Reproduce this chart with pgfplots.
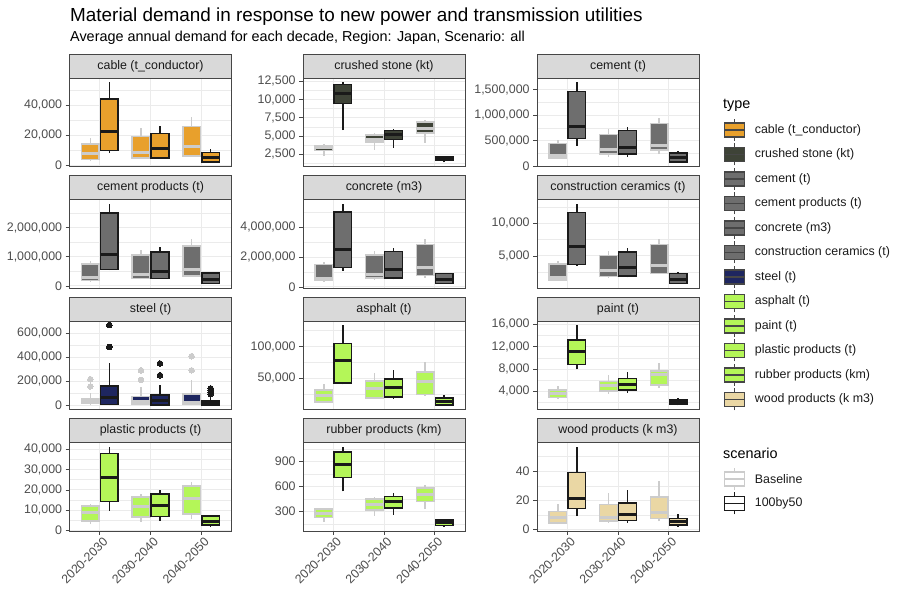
\documentclass[border=0pt]{standalone}
\usepackage{fontspec}
\setmainfont{Liberation Sans}
\usepackage{pgfplots}
\pgfplotsset{compat=1.18}

\definecolor{cableC}{RGB}{232,160,44}
\definecolor{stoneC}{RGB}{62,67,55}
\definecolor{cementC}{RGB}{110,110,110}
\definecolor{steelC}{RGB}{30,38,96}
\definecolor{limeC}{RGB}{180,246,88}
\definecolor{woodC}{RGB}{234,215,164}
\definecolor{baseC}{RGB}{204,204,204}
\definecolor{scenC}{RGB}{26,26,26}
\definecolor{grid92}{RGB}{235,235,235}
\definecolor{grey20}{RGB}{70,70,70}
\definecolor{grey30}{RGB}{77,77,77}
\definecolor{grey85}{RGB}{217,217,217}
\definecolor{grey10}{RGB}{26,26,26}

\newcommand\fs[1]{\fontsize{#1}{#1}\selectfont}

\pgfplotsset{
  facet/.style={
    scale only axis, width=162pt, height=88.5pt, anchor=north west,
    xmin=0.4, xmax=3.6, xtick={1,2,3}, xticklabels={},
    xtick style={draw=none},
    ytick pos=left, xtick pos=bottom,
    xmajorgrids, ymajorgrids, yminorgrids,
    major grid style={color=grid92, line width=1pt},
    minor grid style={color=grid92, line width=0.5pt},
    axis line style={draw=grey20, line width=0.8pt},
    tick align=outside, major tick length=3.9pt, minor tick length=0pt,
    ytick style={draw=grey20, line width=0.8pt},
    yticklabel style={font=\fs{12.4}, text=grey30},
    scaled y ticks=false,
    /pgf/number format/fixed,
    /pgf/number format/1000 sep={,},
    /pgf/number format/assume math mode=true,
    clip=false,
  },
  strip/.style={
    after end axis/.append code={
      \draw[draw=grey20, line width=0.8pt, fill=grey85] (rel axis cs:0,1) rectangle ([yshift=24pt]rel axis cs:1,1);
      \node[font=\fs{12.4}, text=grey10] at ([yshift=12pt]rel axis cs:0.5,1) {#1};
    }
  },
  bottomrow/.style={
    xticklabels={2020-2030,2030-2040,2040-2050},
    xtick style={draw=grey20, line width=0.8pt},
    xticklabel style={font=\fs{12.4}, text=grey30, xshift=2.5pt, rotate=45, anchor=north east, inner sep=1pt},
  },
}

% one box: #1 left, #2 centre, #3 right (x), #4 outline colour,
% #5 lower whisker, #6 lower quartile, #7 median, #8 upper quartile, #9 upper whisker
\newcommand\bx[9]{%
  \addplot[draw=#4, line width=1.5pt] coordinates {(#2,#5) (#2,#6)};
  \addplot[draw=#4, line width=1.5pt] coordinates {(#2,#8) (#2,#9)};
  \addplot[draw=#4, fill=F, line width=1.5pt] coordinates {(#1,#6) (#3,#6) (#3,#8) (#1,#8)} -- cycle;
  \addplot[draw=#4, line width=3pt] coordinates {(#1,#7) (#3,#7)};
}
\pgfplotsset{outl/.style={only marks, mark=*, mark size=2.8pt, mark options={draw=#1, fill=#1, line width=0pt}}}

\begin{document}
\begin{tikzpicture}
\path[use as bounding box] (0pt,0pt) rectangle (898pt,593pt);

\node[anchor=base west, font=\fs{18.9}, inner sep=0pt] at (70pt,571.5pt) {Material demand in response to new power and transmission utilities};
\node[anchor=base west, font=\fs{14.4}, inner sep=0pt] at (70pt,551pt) {Average annual demand for each decade, Region: Japan, Scenario: all};

% ---------------- row 1 ----------------
\colorlet{F}{cableC}
\begin{axis}[facet, at={(69.5pt,515pt)}, strip={cable (t\_conductor)},
  ymin=-890, ymax=58290, ytick={0,20000,40000}, minor ytick={10000,30000,50000}]
\bx{0.6375}{0.8125}{0.9875}{baseC}{2600}{3700}{8000}{14300}{18000}
\bx{1.0125}{1.1875}{1.3625}{scenC}{8100}{9700}{22200}{44400}{55600}
\bx{1.6375}{1.8125}{1.9875}{baseC}{4400}{4800}{8800}{19300}{24800}
\bx{2.0125}{2.1875}{2.3625}{scenC}{4400}{4800}{11000}{21300}{26400}
\bx{2.6375}{2.8125}{2.9875}{baseC}{5500}{6200}{12300}{25700}{32300}
\bx{3.0125}{3.1875}{3.3625}{scenC}{1800}{2200}{5100}{8600}{11000}
\end{axis}

\colorlet{F}{stoneC}
\begin{axis}[facet, at={(303pt,515pt)}, strip={crushed stone (kt)},
  ymin=839.5, ymax=12950.5, ytick={2500,5000,7500,10000,12500}, minor ytick={1250,3750,6250,8750,11250}]
\bx{0.6375}{0.8125}{0.9875}{baseC}{2250}{3000}{3380}{3740}{3930}
\bx{1.0125}{1.1875}{1.3625}{scenC}{5800}{9460}{10840}{12040}{12400}
\bx{1.6375}{1.8125}{1.9875}{baseC}{3150}{4160}{4600}{5170}{5450}
\bx{2.0125}{2.1875}{2.3625}{scenC}{3380}{4530}{5220}{5770}{5910}
\bx{2.6375}{2.8125}{2.9875}{baseC}{4070}{5450}{6000}{6920}{7150}
\bx{3.0125}{3.1875}{3.3625}{scenC}{1390}{1670}{1950}{2220}{2320}
\end{axis}

\colorlet{F}{cementC}
\begin{axis}[facet, at={(537pt,515pt)}, strip={cement (t)},
  ymin=-600, ymax=1728600, ytick={0,500000,1000000,1500000}, minor ytick={250000,750000,1250000}]
\bx{0.6375}{0.8125}{0.9875}{baseC}{142000}{168000}{207000}{453000}{517000}
\bx{1.0125}{1.1875}{1.3625}{scenC}{401000}{543000}{789000}{1468000}{1650000}
\bx{1.6375}{1.8125}{1.9875}{baseC}{194000}{246000}{336000}{627000}{724000}
\bx{2.0125}{2.1875}{2.3625}{scenC}{194000}{246000}{369000}{699000}{776000}
\bx{2.6375}{2.8125}{2.9875}{baseC}{239000}{317000}{414000}{841000}{938000}
\bx{3.0125}{3.1875}{3.3625}{scenC}{78000}{91000}{168000}{265000}{298000}
\end{axis}

% ---------------- row 2 ----------------
\begin{axis}[facet, at={(69.5pt,393.5pt)}, strip={cement products (t)},
  ymin=-70100, ymax=2968100, ytick={0,1000000,2000000}, minor ytick={500000,1500000,2500000}]
\bx{0.6375}{0.8125}{0.9875}{baseC}{148000}{182000}{280000}{750000}{852000}
\bx{1.0125}{1.1875}{1.3625}{scenC}{545000}{568000}{1080000}{2500000}{2830000}
\bx{1.6375}{1.8125}{1.9875}{baseC}{227000}{261000}{409000}{1057000}{1250000}
\bx{2.0125}{2.1875}{2.3625}{scenC}{239000}{261000}{489000}{1170000}{1341000}
\bx{2.6375}{2.8125}{2.9875}{baseC}{318000}{341000}{560000}{1375000}{1625000}
\bx{3.0125}{3.1875}{3.3625}{scenC}{68000}{91000}{227000}{443000}{489000}
\end{axis}

\begin{axis}[facet, at={(303pt,393.5pt)}, strip={concrete (m3)},
  ymin=-68900, ymax=5846900, ytick={0,2000000,4000000}, minor ytick={1000000,3000000,5000000}]
\bx{0.6375}{0.8125}{0.9875}{baseC}{356000}{422000}{556000}{1511000}{1689000}
\bx{1.0125}{1.1875}{1.3625}{scenC}{1067000}{1289000}{2511000}{5000000}{5578000}
\bx{1.6375}{1.8125}{1.9875}{baseC}{467000}{600000}{850000}{2133000}{2400000}
\bx{2.0125}{2.1875}{2.3625}{scenC}{511000}{600000}{1178000}{2378000}{2578000}
\bx{2.6375}{2.8125}{2.9875}{baseC}{622000}{778000}{1333000}{2822000}{3222000}
\bx{3.0125}{3.1875}{3.3625}{scenC}{200000}{244000}{467000}{889000}{956000}
\end{axis}

\begin{axis}[facet, at={(537pt,393.5pt)}, strip={construction ceramics (t)},
  ymin=91, ymax=13646, ytick={5000,10000}, minor ytick={2500,7500,12500}]
\bx{0.6375}{0.8125}{0.9875}{baseC}{1212}{1313}{1768}{3737}{4192}
\bx{1.0125}{1.1875}{1.3625}{scenC}{3485}{3687}{6465}{11667}{13030}
\bx{1.6375}{1.8125}{1.9875}{baseC}{1667}{1818}{2700}{5101}{5758}
\bx{2.0125}{2.1875}{2.3625}{scenC}{1717}{1919}{3232}{5606}{6263}
\bx{2.6375}{2.8125}{2.9875}{baseC}{2222}{2323}{3586}{6717}{7525}
\bx{3.0125}{3.1875}{3.3625}{scenC}{707}{808}{1414}{2273}{2576}
\end{axis}

% ---------------- row 3 ----------------
\colorlet{F}{steelC}
\begin{axis}[facet, at={(69.5pt,272pt)}, strip={steel (t)},
  ymin=-33400, ymax=701400, ytick={0,200000,400000,600000}, minor ytick={100000,300000,500000}]
\bx{0.6375}{0.8125}{0.9875}{baseC}{5500}{19000}{35000}{54600}{103700}
\bx{1.0125}{1.1875}{1.3625}{scenC}{2700}{8200}{62800}{163700}{349000}
\bx{1.6375}{1.8125}{1.9875}{baseC}{2700}{13600}{35000}{73700}{150000}
\bx{2.0125}{2.1875}{2.3625}{scenC}{2700}{5500}{40900}{87300}{169000}
\bx{2.6375}{2.8125}{2.9875}{baseC}{2700}{8200}{27300}{95500}{213000}
\bx{3.0125}{3.1875}{3.3625}{scenC}{0}{2700}{21800}{38200}{81900}
\addplot[outl=baseC] coordinates {(0.8125,158000) (0.8125,218000) (1.8125,213000) (1.8125,292000) (2.8125,292000) (2.8125,409000)};
\addplot[outl=scenC] coordinates {(1.1875,485700) (1.1875,668000) (2.1875,251000) (2.1875,349000) (3.1875,95000) (3.1875,110000) (3.1875,128000) (3.1875,142000)};
\end{axis}

\colorlet{F}{limeC}
\begin{axis}[facet, at={(303pt,272pt)}, strip={asphalt (t)},
  ymin=1175, ymax=140325, ytick={50000,100000}, minor ytick={25000,75000,125000}]
\bx{0.6375}{0.8125}{0.9875}{baseC}{11600}{12600}{23700}{31600}{40500}
\bx{1.0125}{1.1875}{1.3625}{scenC}{40500}{43200}{77900}{105300}{134000}
\bx{1.6375}{1.8125}{1.9875}{baseC}{17900}{19500}{34200}{45800}{57900}
\bx{2.0125}{2.1875}{2.3625}{scenC}{18400}{20500}{36300}{49500}{62600}
\bx{2.6375}{2.8125}{2.9875}{baseC}{23200}{24700}{44700}{60500}{76300}
\bx{3.0125}{3.1875}{3.3625}{scenC}{7500}{8500}{13200}{18900}{23200}
\end{axis}

\begin{axis}[facet, at={(537pt,272pt)}, strip={paint (t)},
  ymin=750, ymax=16600, ytick={4000,8000,12000,16000}, minor ytick={2000,6000,10000,14000}]
\bx{0.6375}{0.8125}{0.9875}{baseC}{2650}{2880}{3650}{4235}{4880}
\bx{1.0125}{1.1875}{1.3625}{scenC}{7940}{8820}{11120}{13240}{15880}
\bx{1.6375}{1.8125}{1.9875}{baseC}{3530}{4060}{5000}{5765}{6880}
\bx{2.0125}{2.1875}{2.3625}{scenC}{3765}{4235}{5290}{6290}{7530}
\bx{2.6375}{2.8125}{2.9875}{baseC}{4590}{5180}{7000}{7650}{9120}
\bx{3.0125}{3.1875}{3.3625}{scenC}{1470}{1700}{2060}{2470}{2880}
\end{axis}

% ---------------- row 4 ----------------
\begin{axis}[facet, bottomrow, at={(69.5pt,150.5pt)}, strip={plastic products (t)},
  ymin=-175, ymax=43275, ytick={0,10000,20000,30000,40000}, minor ytick={5000,15000,25000,35000}]
\bx{0.6375}{0.8125}{0.9875}{baseC}{3240}{4700}{8745}{11980}{12960}
\bx{1.0125}{1.1875}{1.3625}{scenC}{9700}{14400}{26200}{37900}{41300}
\bx{1.6375}{1.8125}{1.9875}{baseC}{4370}{6640}{11660}{16500}{17800}
\bx{2.0125}{2.1875}{2.3625}{scenC}{4860}{6960}{12470}{17980}{19760}
\bx{2.6375}{2.8125}{2.9875}{baseC}{5500}{8260}{15700}{21860}{23800}
\bx{3.0125}{3.1875}{3.3625}{scenC}{1800}{2750}{4700}{7290}{7600}
\end{axis}

\begin{axis}[facet, bottomrow, at={(303pt,150.5pt)}, strip={rubber products (km)},
  ymin=66.7, ymax=1129.3, ytick={300,600,900}, minor ytick={150,450,750,1050}]
\bx{0.6375}{0.8125}{0.9875}{baseC}{179}{228}{280}{328}{340}
\bx{1.0125}{1.1875}{1.3625}{scenC}{542}{711}{864}{1013}{1081}
\bx{1.6375}{1.8125}{1.9875}{baseC}{248}{316}{389}{449}{477}
\bx{2.0125}{2.1875}{2.3625}{scenC}{260}{340}{417}{481}{517}
\bx{2.6375}{2.8125}{2.9875}{baseC}{328}{421}{509}{582}{622}
\bx{3.0125}{3.1875}{3.3625}{scenC}{115}{135}{167}{199}{215}
\end{axis}

\colorlet{F}{woodC}
\begin{axis}[facet, bottomrow, at={(537pt,150.5pt)}, strip={wood products (k m3)},
  ymin=-0.96, ymax=59.76, ytick={0,20,40}, minor ytick={10,30,50}]
\bx{0.6375}{0.8125}{0.9875}{baseC}{3.6}{4.5}{8.0}{12.5}{17.7}
\bx{1.0125}{1.1875}{1.3625}{scenC}{9.3}{14.3}{21.6}{39.3}{57.0}
\bx{1.6375}{1.8125}{1.9875}{baseC}{4.8}{5.9}{8.2}{17.3}{25.0}
\bx{2.0125}{2.1875}{2.3625}{scenC}{4.8}{6.4}{10.2}{18.4}{27.3}
\bx{2.6375}{2.8125}{2.9875}{baseC}{5.7}{7.5}{11.6}{22.5}{33.0}
\bx{3.0125}{3.1875}{3.3625}{scenC}{1.8}{3.0}{5.7}{7.5}{10.7}
\end{axis}

% ---------------- legends ----------------
\node[anchor=base west, font=\fs{14.4}, inner sep=0pt] at (723pt,484.5pt) {type};
\foreach \c/\t [count=\i from 0] in {
  cableC/cable (t\_conductor), stoneC/crushed stone (kt), cementC/cement (t),
  cementC/cement products (t), cementC/concrete (m3), cementC/construction ceramics (t),
  steelC/steel (t), limeC/asphalt (t), limeC/paint (t), limeC/plastic products (t),
  limeC/rubber products (km), woodC/wood products (k m3)} {
  \begin{scope}[shift={(734.7pt,{463pt-24.5pt*\i})}]
    \draw[grey20, line width=1.3pt] (0pt,-11pt) -- (0pt,-7pt) (0pt,7pt) -- (0pt,11pt);
    \draw[grey20, fill=\c, line width=1.3pt] (-10pt,-7pt) rectangle (10pt,7pt);
    \draw[grey20, line width=1.3pt] (-10pt,0pt) -- (10pt,0pt);
    \node[anchor=west, font=\fs{12.4}, text=grey10, inner sep=0pt] at (20pt,0pt) {\t};
  \end{scope}
}
\node[anchor=base west, font=\fs{14.4}, inner sep=0pt] at (723pt,134.5pt) {scenario};
\foreach \c/\t [count=\i from 0] in {baseC/Baseline, scenC/100by50} {
  \begin{scope}[shift={(734.7pt,{114pt-24.5pt*\i})}]
    \draw[\c, line width=1.3pt] (0pt,-11pt) -- (0pt,-7pt) (0pt,7pt) -- (0pt,11pt);
    \draw[\c, fill=white, line width=1.3pt] (-10pt,-7pt) rectangle (10pt,7pt);
    \draw[\c, line width=1.3pt] (-10pt,0pt) -- (10pt,0pt);
    \node[anchor=west, font=\fs{12.4}, text=grey10, inner sep=0pt] at (20pt,0pt) {\t};
  \end{scope}
}
\end{tikzpicture}
\end{document}
